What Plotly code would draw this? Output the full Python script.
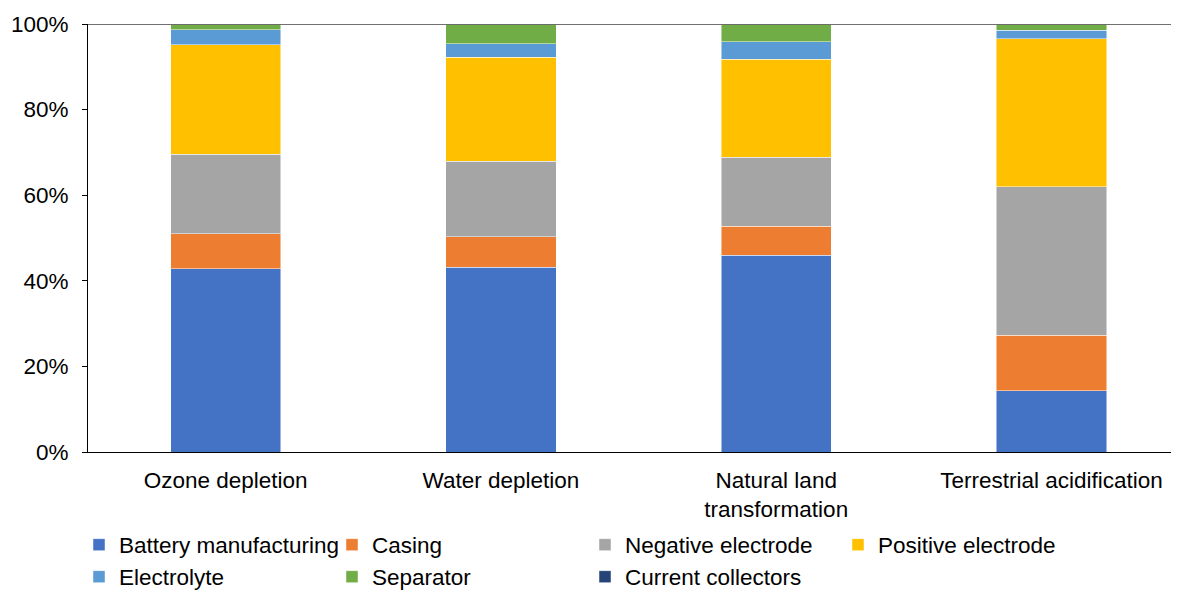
import plotly.graph_objects as go

categories = ["Ozone depletion", "Water depletion", "Natural land<br>transformation", "Terrestrial acidification"]

battery_manufacturing = [42.8, 43.2, 46.0, 14.3]
casing = [8.2, 7.1, 6.7, 13.0]
negative_electrode = [18.6, 17.6, 16.2, 34.7]
positive_electrode = [25.5, 24.3, 22.9, 34.6]
electrolyte = [3.5, 3.2, 4.1, 1.9]
separator = [1.3, 4.5, 4.0, 1.4]
current_collectors = [0.1, 0.1, 0.1, 0.1]

y_tick_values = [0, 20, 40, 60, 80, 100]
y_tick_labels = ["0%", "20%", "40%", "60%", "80%", "100%"]

series = [
    ("Battery manufacturing", battery_manufacturing, "#4472C4", "legend"),
    ("Casing", casing, "#ED7D31", "legend"),
    ("Negative electrode", negative_electrode, "#A5A5A5", "legend"),
    ("Positive electrode", positive_electrode, "#FFC000", "legend"),
    ("Electrolyte", electrolyte, "#5B9BD5", "legend2"),
    ("Separator", separator, "#70AD47", "legend2"),
    ("Current collectors", current_collectors, "#264478", "legend2"),
]

FONT = "Liberation Sans, Arial, sans-serif"
FS = 22.5
fig = go.Figure()
for name, vals, color, leg in series:
    fig.add_trace(go.Bar(
        name=name, x=categories, y=vals, width=0.4,
        marker=dict(color=color, line=dict(color="rgba(255,255,255,0.6)", width=0.8)),
        legend=leg,
    ))

# the page body has an 8px margin; the figure is sized to fill the rest of the window
OFF = 8
W, H = 1179 - OFF, 590 - OFF
left, bottom, top = 88 - OFF, 590 - 452, 24 - OFF

legend_common = dict(
    orientation="h", xref="container", yref="container",
    xanchor="left", yanchor="middle",
    font=dict(family=FONT, size=FS, color="#000000"),
    entrywidth=208, entrywidthmode="pixels",
    traceorder="normal", bgcolor="rgba(0,0,0,0)", itemwidth=30,
)

fig.update_layout(
    width=W, height=H,
    barmode="stack",
    plot_bgcolor="white", paper_bgcolor="white",
    margin=dict(l=left, r=0, t=top, b=bottom, autoexpand=False),
    font=dict(family=FONT, size=FS, color="#000000"),
    xaxis=dict(
        range=[-0.5, 3.463], showline=True, linecolor="#000000", linewidth=1,
        ticks="", showgrid=False, tickfont=dict(size=FS), ticklabelstandoff=8,
    ),
    yaxis=dict(
        range=[0, 100], tickvals=y_tick_values, ticktext=y_tick_labels,
        showline=True, linecolor="#000000", linewidth=1,
        ticks="outside", ticklen=5, tickcolor="#000000",
        showgrid=False, zeroline=False, tickfont=dict(size=FS), ticklabelstandoff=9,
    ),
    legend=dict(x=(79 - OFF) / W, y=(590 - 545) / H, **legend_common),
    legend2=dict(x=(79 - OFF) / W, y=(590 - 577) / H, **legend_common),
    shapes=[dict(type="line", xref="paper", yref="y", x0=0, x1=1, y0=100, y1=100,
                 line=dict(color="#404040", width=1.5))],
)

fig.write_html("out.html")
